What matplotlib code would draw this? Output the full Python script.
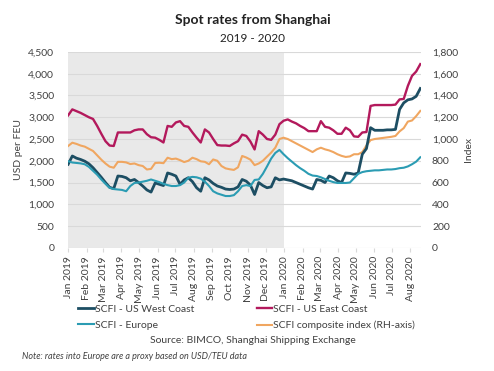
import numpy as np
import pandas as pd
import matplotlib
matplotlib.use('Agg')
import matplotlib.pyplot as plt

plt.rcParams['font.family'] = ['Lato', 'DejaVu Sans']

# weekly observations, Jan 2019 - Aug 2020
weeks = pd.date_range('2019-01-01', periods=86, freq='7D')

west_coast = [1920, 2110, 2060, 2030, 1990, 1930, 1840, 1730, 1620, 1500,
              1390, 1360, 1650, 1640, 1610, 1540, 1570, 1500, 1420, 1330,
              1280, 1490, 1460, 1430, 1720, 1690, 1650, 1460, 1560, 1610,
              1520, 1380, 1300, 1610, 1560, 1480, 1420, 1390, 1350, 1340,
              1350, 1400, 1570, 1530, 1440, 1225, 1500, 1430, 1380, 1400,
              1610, 1560, 1580, 1560, 1540, 1500, 1460, 1420, 1380, 1350,
              1570, 1550, 1500, 1650, 1610, 1540, 1500, 1720, 1710, 1690,
              1720, 2150, 2280, 2760, 2700, 2700, 2700, 2710, 2710, 2720,
              3180, 3330, 3400, 3420, 3480, 3660]

east_coast = [3044, 3180, 3140, 3100, 3050, 3000, 2960, 2800, 2620, 2450,
              2350, 2340, 2650, 2650, 2650, 2650, 2700, 2720, 2720, 2610,
              2540, 2530, 2480, 2420, 2800, 2780, 2880, 2910, 2800, 2780,
              2650, 2530, 2420, 2720, 2650, 2500, 2360, 2350, 2350, 2340,
              2400, 2450, 2600, 2570, 2440, 2260, 2680, 2600, 2500, 2480,
              2600, 2840, 2920, 2950, 2900, 2860, 2800, 2750, 2680, 2680,
              2680, 2910, 2780, 2760, 2700, 2620, 2620, 2760, 2700, 2560,
              2550, 2650, 2660, 3260, 3280, 3280, 3280, 3280, 3280, 3290,
              3410, 3420, 3720, 3950, 4050, 4220]

europe = [1990, 1960, 1950, 1940, 1920, 1860, 1770, 1680, 1570, 1470,
          1380, 1350, 1340, 1330, 1300, 1420, 1490, 1500, 1520, 1540,
          1570, 1540, 1510, 1470, 1440, 1420, 1420, 1440, 1500, 1610,
          1630, 1620, 1590, 1520, 1420, 1300, 1250, 1220, 1190, 1190,
          1210, 1300, 1420, 1440, 1420, 1560, 1570, 1700, 1870, 2050,
          2180, 2250, 2150, 2060, 1980, 1900, 1830, 1770, 1700, 1660,
          1650, 1620, 1580, 1540, 1510, 1490, 1490, 1490, 1500, 1600,
          1700, 1740, 1760, 1770, 1780, 1780, 1790, 1800, 1800, 1810,
          1830, 1840, 1870, 1920, 1980, 2080]

composite = [936, 966, 955, 940, 930, 910, 890, 850, 810, 775,
             746, 736, 790, 790, 785, 770, 775, 760, 752, 720,
             725, 780, 782, 778, 828, 815, 820, 806, 788, 800,
             828, 815, 795, 790, 768, 812, 800, 752, 730, 722,
             716, 740, 844, 830, 810, 760, 775, 800, 838, 875,
             920, 1000, 1012, 1000, 980, 960, 940, 920, 900, 880,
             905, 920, 905, 895, 880, 860, 845, 835, 840, 860,
             860, 880, 940, 990, 1000, 1005, 1010, 1015, 1020, 1028,
             1070, 1100, 1160, 1170, 1210, 1258]

months = pd.date_range('2019-01-01', '2020-08-01', freq='MS')
month_labels = [d.strftime('%b %Y') for d in months]

fig = plt.figure(figsize=(4.94, 3.71), dpi=100)
ax = fig.add_axes([0.138, 0.332, 0.714, 0.528])
ax2 = ax.twinx()

# shaded 2019 block sits on the back axes so every line is drawn over it
ax2.axvspan(pd.Timestamp('2019-01-01'), pd.Timestamp('2020-01-01'),
            color='#e9e9e9', zorder=0, lw=0)

txt = '#404040'
l1, = ax.plot(weeks, west_coast, color='#1d4e63', lw=2.0, label='SCFI - US West Coast')
l2, = ax.plot(weeks, east_coast, color='#b3195c', lw=1.7, label='SCFI - US East Coast')
l3, = ax.plot(weeks, europe, color='#2b9cb3', lw=1.5, label='SCFI - Europe')
l4, = ax2.plot(weeks, composite, color='#f0a660', lw=1.5, zorder=3,
               label='SCFI composite index (RH-axis)')
ax.set_zorder(ax2.get_zorder() + 1)
ax.patch.set_visible(False)
ax2.patch.set_visible(False)

ax.set_ylim(0, 4500)
ax.set_yticks(np.arange(0, 4501, 500))
ax.set_yticklabels([f'{v:,}' for v in range(0, 4501, 500)])
ax2.set_ylim(0, 1800)
ax2.set_yticks(np.arange(0, 1801, 200))
ax2.set_yticklabels([f'{v:,}' for v in range(0, 1801, 200)])
ax.set_xlim(weeks[0], weeks[-1] + pd.Timedelta(days=1))
ax.set_xticks(months)
ax.set_xticklabels(month_labels, rotation=90)

ax2.grid(axis='y', color='#d9d9d9', lw=0.8, zorder=1)
for a in (ax, ax2):
    for s in a.spines.values():
        s.set_visible(False)
    a.tick_params(axis='y', length=0, labelsize=7.5, colors=txt)
ax.tick_params(axis='x', length=3, color='#d9d9d9', labelsize=7.5, colors=txt, pad=3)
ax.tick_params(axis='y', pad=10)
ax2.tick_params(axis='y', pad=8)

ax.set_ylabel('USD per FEU', fontsize=7.5, color=txt, labelpad=4)
ax2.set_ylabel('Index', fontsize=7.5, color=txt, labelpad=4)

fig.text(0.512, 0.945, 'Spot rates from Shanghai', ha='center', va='center',
         fontsize=10, fontweight='bold', color='#222222')
fig.text(0.512, 0.895, '2019 - 2020', ha='center', va='center', fontsize=8.5, color='#222222')

fig.legend(handles=[l1, l3, l2, l4], ncol=2, loc='upper left',
           bbox_to_anchor=(0.158, 0.18), frameon=False, fontsize=7.5,
           handlelength=1.5, handletextpad=0.1, columnspacing=6.0,
           labelspacing=0.7, borderaxespad=0, borderpad=0, labelcolor=txt)

fig.text(0.512, 0.083, 'Source: BIMCO, Shanghai Shipping Exchange', ha='center',
         va='center', fontsize=7.5, color=txt)
fig.text(0.045, 0.04, 'Note: rates into Europe are a proxy based on USD/TEU data',
         ha='left', va='center', fontsize=6.5, style='italic', color=txt)

fig.savefig('out.png', dpi=100)
